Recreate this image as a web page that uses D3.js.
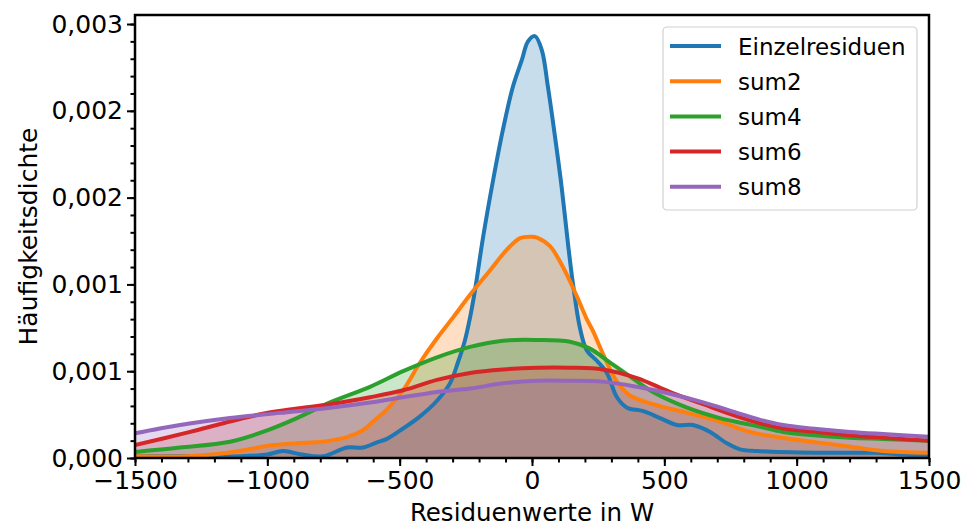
<!DOCTYPE html>
<html>
<head>
<meta charset="utf-8">
<script src="https://cdn.jsdelivr.net/npm/d3@7"></script>
<style>
  html, body { margin: 0; padding: 0; background: #fff; }
  svg { display: block; font-family: "DejaVu Sans", sans-serif; }
</style>
</head>
<body>
<svg id="chart" width="966" height="529"></svg>
<script>
// ---------- data ----------
const seriesNames = ["Einzelresiduen", "sum2", "sum4", "sum6", "sum8"];
const seriesColors = ["#1f77b4", "#ff7f0e", "#2ca02c", "#d62728", "#9467bd"];

const xEinzel = [-1500,-1300,-1100,-1000,-941,-870,-790,-699,-639,-586,-548,-487,-423,-359,-310,-280,-253,-234,-215,-185,-147,-110,-72,-39,-15,11,37,60,87,112,137,156,181,207,245,283,321,359,421,484,548,608,673,736,786,850,1077,1200,1304,1402,1500];
const yEinzel = [0.00001,0.00001,0.00001,0.00002,0.00004,0.00002,0.00001,0.00006,0.00006,0.00009,0.00011,0.00017,0.00024,0.00033,0.00043,0.00055,0.00068,0.00081,0.00097,0.00127,0.0016,0.00189,0.00214,0.00229,0.0024,0.00243,0.00235,0.00214,0.00185,0.00156,0.00122,0.00099,0.00075,0.00062,0.00056,0.00049,0.00035,0.00029,0.00027,0.00023,0.00019,0.00019,0.00015,0.000085,0.00005,0.00004,0.00003,0.00003,0.00003,0.00002,0.00001];

const xSum2 = [-1500,-1300,-1206,-1104,-990,-888,-790,-699,-639,-600,-548,-487,-423,-359,-298,-234,-159,-95,-45,0,19,68,117,170,207,231,268,321,370,457,586,710,824,949,1077,1202,1326,1500];
const ySum2 = [0.00001,0.00001,0.00002,0.00004,0.000072,0.000085,0.000094,0.00012,0.00016,0.00021,0.00028,0.00039,0.00055,0.00069,0.00081,0.00094,0.00108,0.0012,0.001267,0.001275,0.00127,0.00122,0.0011,0.00093,0.0008,0.00073,0.0006,0.00044,0.00036,0.00031,0.00026,0.00021,0.00015,0.000115,0.00009,0.000065,0.00004,0.00003];

const xSum4 = [-1500,-1330,-1141,-1017,-888,-763,-612,-487,-359,-234,-110,19,144,219,295,370,457,586,710,862,949,1077,1202,1326,1500];
const ySum4 = [0.000035,0.00006,0.000094,0.00015,0.00023,0.00032,0.00041,0.0005,0.00058,0.00064,0.000676,0.00068,0.00067,0.00063,0.00055,0.00047,0.00038,0.00029,0.00023,0.00018,0.00015,0.00013,0.000117,0.00011,0.0001];

const xSum6 = [-1500,-1394,-1267,-1141,-1017,-888,-763,-612,-487,-359,-234,-110,19,144,268,397,522,647,775,862,949,1077,1202,1326,1500];
const ySum6 = [0.000075,0.000112,0.00016,0.00021,0.000255,0.000285,0.00031,0.00035,0.00039,0.00045,0.00049,0.00051,0.00052,0.00052,0.00051,0.00046,0.00038,0.00031,0.00024,0.0002,0.00017,0.00015,0.00013,0.000117,0.0001];

const xSum8 = [-1500,-1330,-1141,-952,-763,-612,-487,-359,-234,-110,19,144,268,397,522,647,775,862,949,1077,1202,1326,1500];
const ySum8 = [0.000142,0.00019,0.00023,0.00026,0.00029,0.00032,0.00035,0.00038,0.0004,0.00043,0.000445,0.000445,0.00044,0.00041,0.00037,0.00032,0.00026,0.00022,0.00019,0.000167,0.00015,0.000138,0.000123];

const xTicks = [-1500, -1000, -500, 0, 500, 1000, 1500];
const yTicks = [0, 0.0005, 0.001, 0.0015, 0.002, 0.0025];
const yTickLabels = ["0,000", "0,001", "0,001", "0,002", "0,002", "0,003"];
const xLabel = "Residuenwerte in W";
const yLabel = "Häufigkeitsdichte";

// ---------- layout ----------
const svg = d3.select("#chart");
const L = 135, R = 929, T = 15, B = 458;

const x = d3.scaleLinear().domain([-1500, 1500]).range([L, R]);
const y = d3.scaleLinear().domain([0, 0.002552]).range([B, T]);

const seriesX = [xEinzel, xSum2, xSum4, xSum6, xSum8];
const seriesY = [yEinzel, ySum2, ySum4, ySum6, ySum8];
const series = seriesNames.map((name, i) => ({
  name, color: seriesColors[i],
  values: seriesX[i].map((xv, j) => ({ x: xv, y: seriesY[i][j] }))
}));

svg.append("defs").append("clipPath").attr("id", "plotclip")
  .append("rect").attr("x", L).attr("y", T).attr("width", R - L).attr("height", B - T);

const plot = svg.append("g").attr("clip-path", "url(#plotclip)");
const curve = d3.curveCatmullRom.alpha(0.5);
const area = d3.area().x(d => x(d.x)).y0(y(0)).y1(d => Math.min(y(0), y(d.y))).curve(curve);
const line = d3.line().x(d => x(d.x)).y(d => y(d.y)).curve(curve);

series.forEach(s => {
  plot.append("path").datum(s.values).attr("d", area)
    .attr("fill", s.color).attr("fill-opacity", 0.25).attr("stroke", "none");
});
series.forEach(s => {
  plot.append("path").datum(s.values).attr("d", line)
    .attr("fill", "none").attr("stroke", s.color).attr("stroke-width", 4)
    .attr("stroke-linejoin", "round").attr("stroke-linecap", "round");
});

// ---------- axes ----------
const fmtMinus = v => String(v).replace("-", "\u2212");
const xAxis = d3.axisBottom(x).tickValues(xTicks).tickFormat(fmtMinus).tickSize(8).tickPadding(5);
const xMinor = d3.axisBottom(x).tickValues(d3.range(-1500, 1501, 100)).tickFormat("").tickSize(4.5);
const yAxis = d3.axisLeft(y).tickValues(yTicks).tickFormat((d, i) => yTickLabels[i]).tickSize(8).tickPadding(4);
const yMinor = d3.axisLeft(y).tickValues(d3.range(0, 26).map(i => i * 0.0001)).tickFormat("").tickSize(4.5);

function styleAxis(g, fs) {
  g.select(".domain").remove();
  g.selectAll("line").attr("stroke", "#000").attr("stroke-width", 2);
  g.selectAll("text").attr("fill", "#000").style("font-size", fs + "px").style("font-family", "DejaVu Sans");
}
svg.append("g").attr("transform", `translate(0,${B})`).call(xMinor).call(g => styleAxis(g, 25));
svg.append("g").attr("transform", `translate(0,${B})`).call(xAxis).call(g => styleAxis(g, 25));
svg.append("g").attr("transform", `translate(${L},0)`).call(yMinor).call(g => styleAxis(g, 25));
svg.append("g").attr("transform", `translate(${L},0)`).call(yAxis).call(g => styleAxis(g, 25));

// frame
svg.append("rect").attr("x", L).attr("y", T).attr("width", R - L).attr("height", B - T)
  .attr("fill", "none").attr("stroke", "#000").attr("stroke-width", 2.5);

// axis labels
svg.append("text").attr("x", (L + R) / 2).attr("y", 521).attr("text-anchor", "middle")
  .style("font-size", "24.5px").text(xLabel);
svg.append("text").attr("transform", `translate(37,${(T + B) / 2}) rotate(-90)`)
  .attr("text-anchor", "middle").style("font-size", "25px").text(yLabel);

// ---------- legend ----------
const lg = svg.append("g");
lg.append("rect").attr("x", 663).attr("y", 27).attr("width", 254).attr("height", 183)
  .attr("rx", 4).attr("fill", "#fff").attr("fill-opacity", 0.8)
  .attr("stroke", "#d0d0d0").attr("stroke-width", 1.2);
series.forEach((s, i) => {
  const cy = 46 + i * 35.2;
  lg.append("line").attr("x1", 670).attr("x2", 721).attr("y1", cy).attr("y2", cy)
    .attr("stroke", s.color).attr("stroke-width", 4);
  lg.append("text").attr("x", 738).attr("y", cy + 8.5).style("font-size", "23px").text(s.name);
});
</script>
</body>
</html>
